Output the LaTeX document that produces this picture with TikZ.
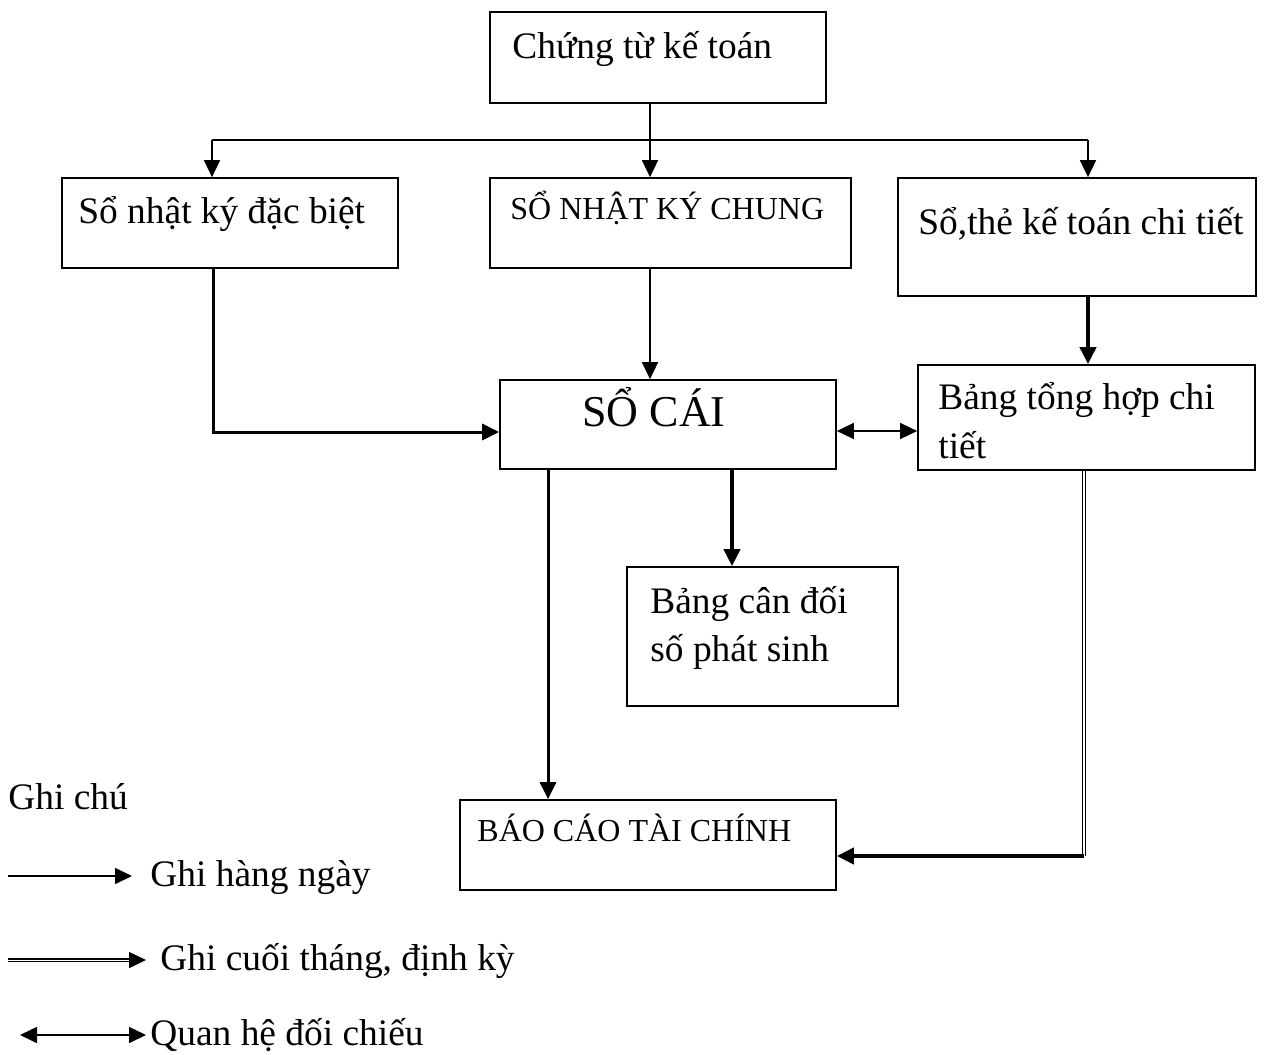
\documentclass[tikz,border=0pt]{standalone}
\usepackage{fontspec}
\setmainfont{Liberation Serif}
\usetikzlibrary{arrows.meta,fit}
\begin{document}
\begin{tikzpicture}[x=0.5pt,y=-0.5pt,
  box/.style={draw, line width=0.85pt, inner sep=0pt},
  txt/.style={anchor=base west, inner sep=0pt, font=\fontsize{18.7}{22}\selectfont},
  caps/.style={anchor=base west, inner sep=0pt, font=\fontsize{16}{19}\selectfont},
  head/.tip={Triangle[length=8.5pt,width=8pt]},
  tip/.style={-head},
  thin/.style={tip, line width=0.8pt},
  thick/.style={tip, line width=1.5pt},
  heavy/.style={tip, line width=2pt},
  twin/.style={line width=0.6pt, double, double distance=0.9pt},
  both/.style={head-head, line width=0.8pt}]

\useasboundingbox (0,0) rectangle (1273,1054);

% boxes
\node[box, fit={(490,12) (826,103)}] (ct) {};
\node[box, fit={(62,178) (398,268)}] (nkdb) {};
\node[box, fit={(490,178) (851,268)}] (nkc) {};
\node[box, fit={(898,178) (1256,296)}] (sct) {};
\node[box, fit={(500,380) (836,469)}] (sc) {};
\node[box, fit={(918,365) (1255,470)}] (bth) {};
\node[box, fit={(627,567) (898,706)}] (bcd) {};
\node[box, fit={(460,800) (836,890)}] (bctc) {};

% texts
\node[txt] (t1) at (512,59) {Chứng từ kế toán};
\node[txt] (t2) at (78,223) {Sổ nhật ký đặc biệt};
\node[caps] (t3) at (510,219) {SỔ NHẬT KÝ CHUNG};
\node[txt] (t4) at (918,234) {Sổ,thẻ kế toán chi tiết};
\node[anchor=base, inner sep=0pt, font=\fontsize{22}{26}\selectfont] (t5) at (654,426) {SỔ CÁI};
\node[txt] (t6) at (938,409) {Bảng tổng hợp chi};
\node[txt] (t7) at (938,458) {tiết};
\node[txt] (t8) at (650,613) {Bảng cân đối};
\node[txt] (t9) at (650,661) {số phát sinh};
\node[caps] (t10) at (477,841) {BÁO CÁO TÀI CHÍNH};

% distribution from the source documents
\coordinate (jl) at (212,140);
\coordinate (j) at (650,140);
\coordinate (jr) at (1088,140);
\draw[line width=0.8pt] (ct.south -| j) -- (j);
\draw[line width=0.8pt] (jl) -- (jr);
\draw[thin] (jl) -- (nkdb.north -| jl);
\draw[thin] (j) -- (nkc.north -| j);
\draw[thin] (jr) -- (sct.north -| jr);

% postings to the ledger
\coordinate (p1) at (213,432);
\coordinate (p2) at (650,0);
\coordinate (p3) at (1088,0);
\coordinate (p4) at (0,431);
\coordinate (p5) at (732,0);
\coordinate (p6) at (548,0);
\draw[thick] (nkdb.south -| p1) |- (sc.west |- p1);
\draw[thin] (nkc.south -| p2) -- (sc.north -| p2);
\draw[heavy] (sct.south -| p3) -- (bth.north -| p3);
\draw[both] (sc.east |- p4) -- (bth.west |- p4);
\draw[heavy] (sc.south -| p5) -- (bcd.north -| p5);
\draw[thick] (sc.south -| p6) -- (bctc.north -| p6);
\coordinate (k) at (1084,856);
\draw[twin] (bth.south -| k) -- (k);
\draw[heavy] (k) -- (bctc.east |- k);

% legend
\node[txt] (g0) at (8,809) {Ghi chú};
\coordinate (a1) at (8,876);
\coordinate (b1) at (132,876);
\draw[thin] (a1) -- (b1);
\node[txt] (g1) at (150,886) {Ghi hàng ngày};
\coordinate (a2) at (8,960);
\coordinate (b2) at (146,960);
\draw[line width=0.85pt, double, double distance=0.5pt, shorten >=6pt] (a2) -- (b2);
\draw[thin] ([xshift=-7pt]b2) -- (b2);
\node[txt] (g2) at (160,970) {Ghi cuối tháng, định kỳ};
\coordinate (a3) at (20,1035);
\coordinate (b3) at (146,1035);
\draw[both] (a3) -- (b3);
\node[txt] (g3) at (150,1045) {Quan hệ đối chiếu};
\end{tikzpicture}
\end{document}
